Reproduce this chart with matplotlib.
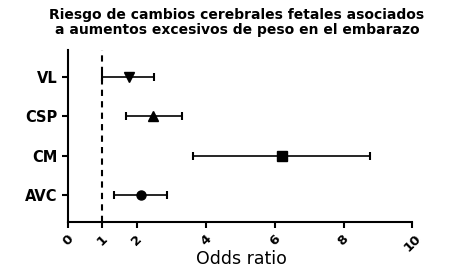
import numpy as np
import matplotlib.pyplot as plt

plt.rcParams['font.family'] = ['DejaVu Sans']

# datos
labels = ['VL', 'CSP', 'CM', 'AVC']
odds = [1.76, 2.48, 6.22, 2.11]
low = [1.0, 1.68, 3.63, 1.34]
high = [2.5, 3.31, 8.78, 2.87]
markers = ['v', '^', 's', 'o']
xticks = [0, 1, 2, 4, 6, 8, 10]

fig = plt.figure(figsize=(4.58, 2.71), dpi=100)
ax = fig.add_axes([68/458, 1-222/271, (412.7-68.3)/458, (222-50)/271])

ypos = np.arange(len(labels))[::-1] + 1
for i in range(len(labels)):
    ax.errorbar(odds[i], ypos[i], xerr=[[odds[i]-low[i]], [high[i]-odds[i]]],
                fmt=markers[i], color='black', ms=6.5, elinewidth=1.2,
                capsize=3, capthick=1.5)

ax.axvline(1, color='black', ls=(0, (3, 2.5)), lw=1.5)

ax.set_xlim(0, 10)
ax.set_ylim(0.31, 4.69)
ax.set_yticks(ypos)
ax.set_yticklabels(labels, fontweight='bold', fontsize=10.5)
ax.set_xticks(xticks)
ax.set_xticklabels([str(t) for t in xticks], rotation=45, fontweight='bold',
                   fontsize=9.5, ha='center', va='top')
ax.spines['top'].set_visible(False)
ax.spines['right'].set_visible(False)
ax.spines['left'].set_linewidth(1.5)
ax.spines['bottom'].set_linewidth(1.5)
ax.tick_params(width=1.5, length=4)

# etiqueta del eje x
fig.text(241/458, 1-259/271, 'Odds ratio', fontsize=12.5, ha='center', va='center')

fig.suptitle('Riesgo de cambios cerebrales fetales asociados\na aumentos excesivos de peso en el embarazo',
             fontsize=10, fontweight='bold', x=237/458, y=0.97, linespacing=1.05)

fig.savefig('out.png', dpi=100)
